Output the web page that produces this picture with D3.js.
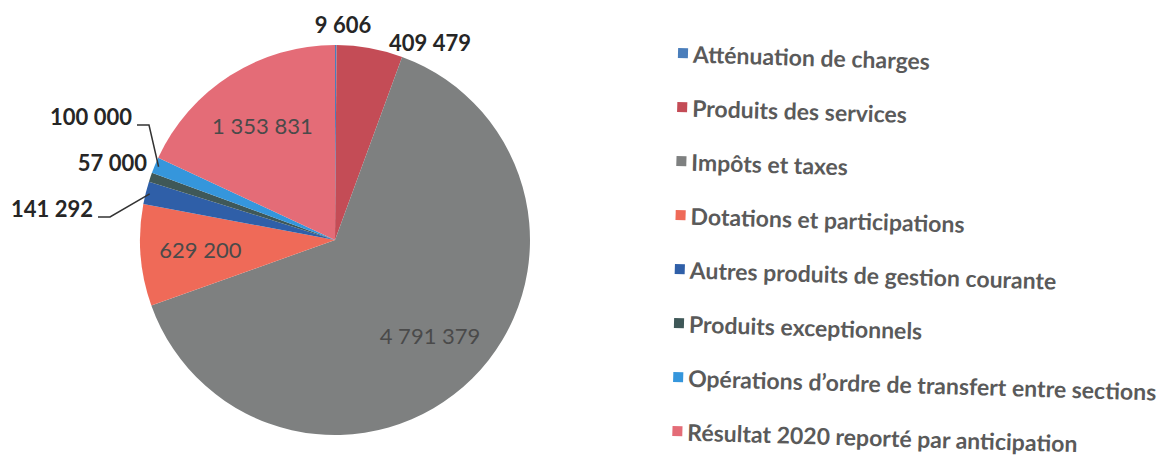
<!DOCTYPE html>
<meta charset="utf-8">
<title>Recettes de fonctionnement</title>
<style>
html, body {
  margin: 0;
  background: #fff;
  overflow: hidden;
}
.inner {
  font: 400 22px Lato, "Noto Sans", sans-serif;
  fill: #4a4a4a;
  text-anchor: middle;
}
.outer {
  font: 700 22px Lato, "Noto Sans", sans-serif;
  fill: #262626;
}
.legend text {
  font: 700 23px Lato, "Noto Sans", sans-serif;
  fill: #5a5a5a;
}
.leader {
  fill: none;
  stroke: #333;
  stroke-width: 1.5px;
}
</style>
<svg width="1166" height="459"></svg>
<script src="https://d3js.org/d3.v7.min.js"></script>
<script>

// data
var categories = [
  "Atténuation de charges",
  "Produits des services",
  "Impôts et taxes",
  "Dotations et participations",
  "Autres produits de gestion courante",
  "Produits exceptionnels",
  "Opérations d’ordre de transfert entre sections",
  "Résultat 2020 reporté par anticipation"
];
var values = [9606, 409479, 4791379, 629200, 141292, 57000, 100000, 1353831];
var colors = ["#4a7ebb", "#c44c56", "#7e8080", "#ef6a58", "#2f5fa8", "#3f5858", "#3596dc", "#e46c77"];

// label placement (layout only): inside the slice, or outside at an offset from the centre
var labelLayout = [
  {pos: "out", dx: 8, dy: -215, anchor: "middle"},
  {pos: "out", dx: 95, dy: -197, anchor: "middle"},
  {pos: "in"},
  {pos: "in"},
  {pos: "out", dx: -242, dy: -31, anchor: "end", leader: true},
  {pos: "out", dx: -188, dy: -77, anchor: "end"},
  {pos: "out", dx: -203, dy: -123, anchor: "end", leader: true},
  {pos: "in"}
];

var fmt = function(v) { return d3.format(",")(v).replace(/,/g, " "); };

var svg = d3.select("svg"),
    cx = 335,
    cy = 240,
    radius = 195;

var g = svg.append("g").attr("transform", "translate(" + cx + "," + cy + ")");

var pie = d3.pie().sort(null).value(function(d) { return d; });
var arcs = pie(values);

var arc = d3.arc().innerRadius(0).outerRadius(radius);
var labelArc = d3.arc().innerRadius(135).outerRadius(135);
var edgeArc = d3.arc().innerRadius(radius - 4).outerRadius(radius - 4);

g.selectAll("path.slice")
  .data(arcs)
  .enter().append("path")
    .attr("class", "slice")
    .attr("d", arc)
    .attr("fill", function(d, i) { return colors[i]; });

// inside labels
g.selectAll("text.inner")
  .data(arcs.filter(function(d, i) { return labelLayout[i].pos === "in"; }))
  .enter().append("text")
    .attr("class", "inner")
    .attr("transform", function(d) { return "translate(" + labelArc.centroid(d) + ")"; })
    .attr("dy", "0.35em")
    .text(function(d) { return fmt(d.data); });

// outside labels
arcs.forEach(function(d, i) {
  var L = labelLayout[i];
  if (L.pos !== "out") return;
  g.append("text")
    .attr("class", "outer")
    .attr("x", L.dx)
    .attr("y", L.dy)
    .attr("dy", "0.35em")
    .attr("text-anchor", L.anchor)
    .text(fmt(d.data));
  if (L.leader) {
    var e = edgeArc.centroid(d);
    var s = [L.dx + 5, L.dy + 8];
    g.append("path")
      .attr("class", "leader")
      .attr("d", d3.line()([s, [s[0] + 12, s[1]], e]));
  }
});

// legend, slightly tilted like the scan
var legend = svg.append("g").attr("class", "legend");
var item = legend.selectAll("g")
  .data(categories)
  .enter().append("g")
    .attr("transform", function(d, i) {
      return "translate(" + (678 - i * 0.8) + "," + (53 + i * 54) + ") rotate(1.7)";
    });

item.append("rect")
  .attr("x", 0)
  .attr("y", -5)
  .attr("width", 10)
  .attr("height", 10)
  .attr("fill", function(d, i) { return colors[i]; });

item.append("text")
  .attr("x", 15)
  .attr("dy", "0.4em")
  .text(function(d) { return d; });

</script>
